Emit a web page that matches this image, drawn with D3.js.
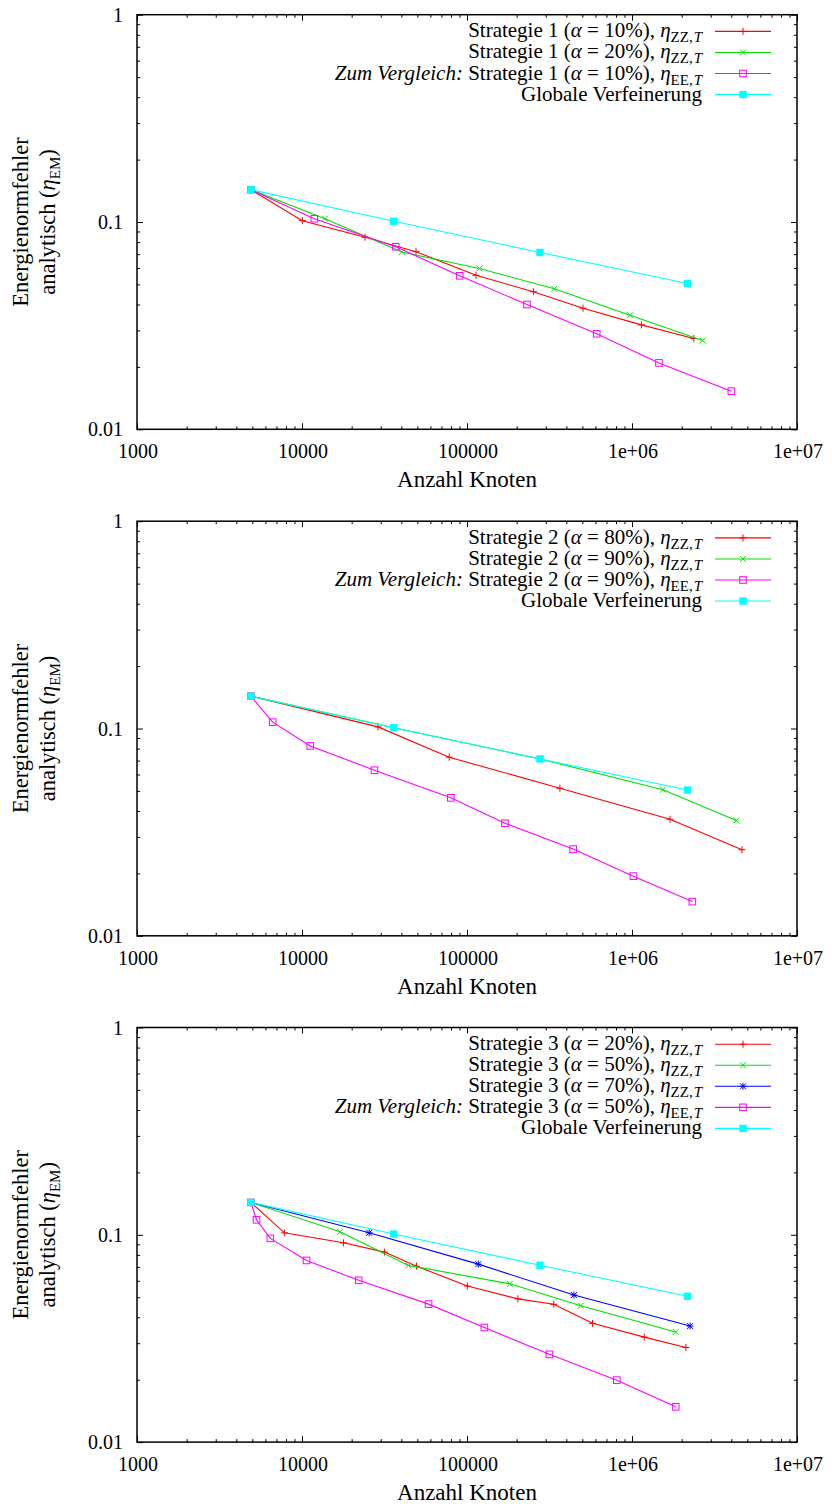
<!DOCTYPE html>
<html>
<head>
<meta charset="utf-8">
<script src="https://cdn.jsdelivr.net/npm/d3@7"></script>
<style>
  body { margin: 0; background: #fff; }
  svg { display: block; }
</style>
</head>
<body>
<svg id="chart" width="832" height="1504" font-family="'Liberation Serif', Tinos, 'Times New Roman', 'DejaVu Serif', serif"></svg>
<script>
// ---------- Data ----------
const xTickValues = [1000, 10000, 100000, 1000000, 10000000];
const xTickLabels = ["1000", "10000", "100000", "1e+06", "1e+07"];
const yTickValues = [0.01, 0.1, 1];
const yTickLabels = ["0.01", "0.1", "1"];

// Global refinement (same in all panels)
const globalX = [4900, 36000, 277000, 2170000];
const globalY = [0.1432, 0.1008, 0.0713, 0.0505];

// Panel 1: Strategie 1
const s1a10zzX = [4900, 10050, 24100, 49100, 113400, 252600, 504700, 1140000, 2370000];
const s1a10zzY = [0.1432, 0.1015, 0.0844, 0.0719, 0.0553, 0.0461, 0.0384, 0.0319, 0.0274];
const s1a20zzX = [4900, 13770, 40200, 118900, 338000, 973000, 2680000];
const s1a20zzY = [0.1432, 0.1037, 0.0716, 0.0597, 0.0476, 0.0355, 0.0268];
const s1a10eeX = [4900, 11880, 36980, 90300, 231000, 611000, 1457000, 4000000];
const s1a10eeY = [0.1432, 0.1037, 0.0760, 0.0550, 0.0400, 0.0289, 0.0209, 0.01527];

// Panel 2: Strategie 2
const s2a80zzX = [4900, 28900, 78000, 365600, 1700000, 4640000];
const s2a80zzY = [0.1432, 0.1018, 0.0727, 0.0515, 0.0365, 0.0260];
const s2a90zzX = [4900, 36000, 277000, 1540000, 4290000];
const s2a90zzY = [0.1432, 0.1008, 0.0713, 0.0507, 0.0360];
const s2a90eeX = [4900, 6644, 11220, 27480, 79800, 169700, 440000, 1020000, 2320000];
const s2a90eeY = [0.1432, 0.1073, 0.0824, 0.0629, 0.0463, 0.0349, 0.0262, 0.0194, 0.01462];

// Panel 3: Strategie 3
const s3a20zzX = [4900, 7824, 17830, 31670, 49440, 100500, 203500, 335700, 576500, 1187000, 2120000];
const s3a20zzY = [0.1432, 0.1022, 0.0915, 0.0825, 0.0706, 0.0566, 0.0491, 0.0462, 0.0374, 0.0321, 0.0286];
const s3a50zzX = [4900, 17020, 44150, 181500, 489800, 1840000];
const s3a50zzY = [0.1432, 0.1034, 0.0712, 0.0580, 0.0455, 0.0340];
const s3a70zzX = [4900, 25530, 117100, 445000, 2250000];
const s3a70zzY = [0.1432, 0.1022, 0.0722, 0.0512, 0.0363];
const s3a50eeX = [4900, 5300, 6427, 10660, 22060, 58480, 127400, 315800, 809000, 1840000];
const s3a50eeY = [0.1432, 0.1181, 0.0961, 0.0752, 0.0603, 0.0463, 0.0357, 0.0265, 0.0199, 0.0148];

// Legend label pieces
const I = (t) => ({t, it: true});
const N = (t) => ({t});
const SUB = (t, it) => ({t, sub: true, it: !!it});
function zzLabel(s, a) { return [N(`Strategie ${s} (`), I("α"), N(` = ${a}%), `), I("η"), SUB("ZZ,"), SUB("T", true)]; }
function eeLabel(s, a) { return [I("Zum Vergleich:"), N(` Strategie ${s} (`), I("α"), N(` = ${a}%), `), I("η"), SUB("EE,"), SUB("T", true)]; }
const globalLabel = [N("Globale Verfeinerung")];

const colors = { red: "#ff0000", green: "#00e000", blue: "#0000ff", magenta: "#ff00ff", cyan: "#00ffff" };

const panels = [
  { off: 0, series: [
      { x: s1a10zzX, y: s1a10zzY, color: colors.red, marker: "plus", label: zzLabel(1, 10) },
      { x: s1a20zzX, y: s1a20zzY, color: colors.green, marker: "cross", label: zzLabel(1, 20) },
      { x: s1a10eeX, y: s1a10eeY, color: colors.magenta, marker: "box", label: eeLabel(1, 10) },
      { x: globalX, y: globalY, color: colors.cyan, marker: "fbox", label: globalLabel } ] },
  { off: 506.5, series: [
      { x: s2a80zzX, y: s2a80zzY, color: colors.red, marker: "plus", label: zzLabel(2, 80) },
      { x: s2a90zzX, y: s2a90zzY, color: colors.green, marker: "cross", label: zzLabel(2, 90) },
      { x: s2a90eeX, y: s2a90eeY, color: colors.magenta, marker: "box", label: eeLabel(2, 90) },
      { x: globalX, y: globalY, color: colors.cyan, marker: "fbox", label: globalLabel } ] },
  { off: 1012.8, series: [
      { x: s3a20zzX, y: s3a20zzY, color: colors.red, marker: "plus", label: zzLabel(3, 20) },
      { x: s3a50zzX, y: s3a50zzY, color: colors.green, marker: "cross", label: zzLabel(3, 50) },
      { x: s3a70zzX, y: s3a70zzY, color: colors.blue, marker: "star", label: zzLabel(3, 70) },
      { x: s3a50eeX, y: s3a50eeY, color: colors.magenta, marker: "box", label: eeLabel(3, 50) },
      { x: globalX, y: globalY, color: colors.cyan, marker: "fbox", label: globalLabel } ] }
];

// ---------- Drawing ----------
const svg = d3.select("#chart");
const L = 137, R = 797;
const FS = 20;

function minorTicks(lo, hi) {
  const out = [];
  for (let d = lo; d < hi; d *= 10) for (let k = 2; k <= 9; k++) out.push(d * k);
  return out;
}

function drawMarker(g, type, cx, cy, color) {
  const s = 3.5;
  if (type === "plus" || type === "star") {
    g.append("line").attr("x1", cx - s).attr("x2", cx + s).attr("y1", cy).attr("y2", cy).attr("stroke", color).attr("stroke-width", 1);
    g.append("line").attr("x1", cx).attr("x2", cx).attr("y1", cy - s).attr("y2", cy + s).attr("stroke", color).attr("stroke-width", 1);
  }
  if (type === "cross" || type === "star") {
    const c = 3;
    g.append("line").attr("x1", cx - c).attr("x2", cx + c).attr("y1", cy - c).attr("y2", cy + c).attr("stroke", color).attr("stroke-width", 1);
    g.append("line").attr("x1", cx - c).attr("x2", cx + c).attr("y1", cy + c).attr("y2", cy - c).attr("stroke", color).attr("stroke-width", 1);
  }
  if (type === "box") {
    g.append("rect").attr("x", cx - 3.3).attr("y", cy - 3.3).attr("width", 6.6).attr("height", 6.6)
      .attr("fill", "none").attr("stroke", color).attr("stroke-width", 1);
  }
  if (type === "fbox") {
    g.append("rect").attr("x", cx - 3.7).attr("y", cy - 3.7).attr("width", 7.4).attr("height", 7.4).attr("fill", color);
  }
}

function addRich(textSel, parts, subSize) {
  let inSub = false;
  parts.forEach(p => {
    const ts = textSel.append("tspan").text(p.t);
    if (p.it) ts.attr("font-style", "italic");
    if (p.sub) {
      ts.attr("font-size", subSize);
      if (!inSub) { ts.attr("dy", 5); inSub = true; }
      else ts.attr("dx", 1);
    } else if (inSub) {
      ts.attr("dy", -5); inSub = false;
    }
  });
}

panels.forEach(panel => {
  const top = 14.7 + panel.off, bottom = 429.3 + panel.off;
  const x = d3.scaleLog().domain([1000, 1e7]).range([L, R]);
  const y = d3.scaleLog().domain([0.01, 1]).range([bottom, top]);
  const g = svg.append("g");

  // minor & major ticks (inward, mirrored)
  const xMinor = minorTicks(1000, 1e7), yMinor = minorTicks(0.01, 1);
  const tickStyle = sel => { sel.select(".domain").remove(); sel.selectAll("line").attr("stroke", "#000").attr("stroke-width", 1); sel.selectAll("text").remove(); };
  g.append("g").attr("transform", `translate(0,${bottom})`).call(d3.axisBottom(x).tickValues(xMinor).tickSize(-3).tickFormat("")).call(tickStyle);
  g.append("g").attr("transform", `translate(0,${bottom})`).call(d3.axisBottom(x).tickValues(xTickValues).tickSize(-6).tickFormat("")).call(tickStyle);
  g.append("g").attr("transform", `translate(0,${top})`).call(d3.axisTop(x).tickValues(xMinor).tickSize(-3).tickFormat("")).call(tickStyle);
  g.append("g").attr("transform", `translate(0,${top})`).call(d3.axisTop(x).tickValues(xTickValues).tickSize(-6).tickFormat("")).call(tickStyle);
  g.append("g").attr("transform", `translate(${L},0)`).call(d3.axisLeft(y).tickValues(yMinor).tickSize(-3).tickFormat("")).call(tickStyle);
  g.append("g").attr("transform", `translate(${L},0)`).call(d3.axisLeft(y).tickValues(yTickValues).tickSize(-6).tickFormat("")).call(tickStyle);
  g.append("g").attr("transform", `translate(${R},0)`).call(d3.axisRight(y).tickValues(yMinor).tickSize(-3).tickFormat("")).call(tickStyle);
  g.append("g").attr("transform", `translate(${R},0)`).call(d3.axisRight(y).tickValues(yTickValues).tickSize(-6).tickFormat("")).call(tickStyle);

  // tick labels
  xTickValues.forEach((v, i) => {
    g.append("text").attr("x", x(v) + 1).attr("y", bottom + 29).attr("text-anchor", "middle").attr("font-size", FS).text(xTickLabels[i]);
  });
  yTickValues.forEach((v, i) => {
    g.append("text").attr("x", L - 14).attr("y", y(v)).attr("dy", "0.35em").attr("text-anchor", "end").attr("font-size", FS).text(yTickLabels[i]);
  });

  // axis labels
  g.append("text").attr("x", (L + R) / 2).attr("y", bottom + 58).attr("text-anchor", "middle").attr("font-size", 23).text("Anzahl Knoten");
  const cy = (top + bottom) / 2;
  g.append("text").attr("transform", `translate(28,${cy}) rotate(-90)`).attr("text-anchor", "middle").attr("font-size", 22.5).text("Energienormfehler");
  const yl2 = g.append("text").attr("transform", `translate(55,${cy}) rotate(-90)`).attr("text-anchor", "middle").attr("font-size", 22.5);
  addRich(yl2, [N("analytisch ("), I("η"), SUB("EM"), N(")")], 15);

  // series
  const line = d3.line().x(d => x(d[0])).y(d => y(d[1]));
  panel.series.forEach(s => {
    const pts = s.x.map((v, i) => [v, s.y[i]]);
    g.append("path").attr("d", line(pts)).attr("fill", "none").attr("stroke", s.color).attr("stroke-width", 1.1);
    const mg = g.append("g");
    pts.forEach(p => drawMarker(mg, s.marker, x(p[0]), y(p[1]), s.color));
  });

  // legend
  panel.series.forEach((s, i) => {
    const ry = top + 16.7 + i * 21.05;
    const t = g.append("text").attr("x", 702).attr("y", ry + 6).attr("text-anchor", "end").attr("font-size", 21);
    addRich(t, s.label, 15);
    g.append("line").attr("x1", 715).attr("x2", 771).attr("y1", ry).attr("y2", ry).attr("stroke", s.color).attr("stroke-width", 1.1);
    drawMarker(g, s.marker, 743, ry, s.color);
  });

  // frame
  g.append("rect").attr("x", L).attr("y", top).attr("width", R - L).attr("height", bottom - top)
    .attr("fill", "none").attr("stroke", "#000").attr("stroke-width", 1.5);
});
</script>
</body>
</html>
